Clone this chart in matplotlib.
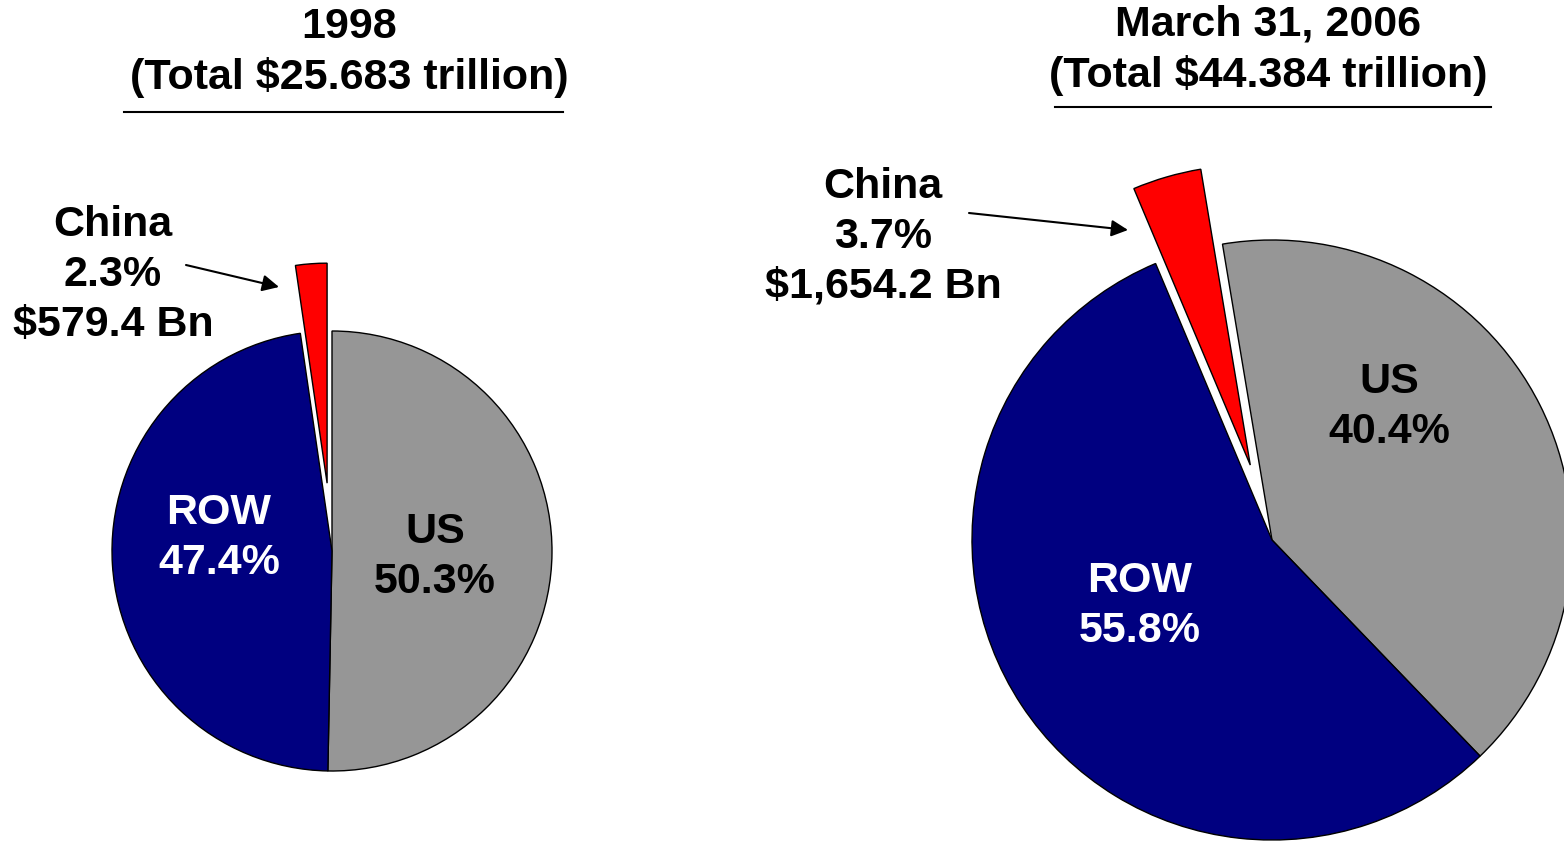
import matplotlib.pyplot as plt

# share of world equity market cap (%)
regions = ['US', 'ROW', 'China']
share_1998 = [50.3, 47.4, 2.3]
share_2006 = [40.4, 55.8, 3.7]
china_bn_1998 = 579.4
china_bn_2006 = 1654.2
total_1998 = 25.683
total_2006 = 44.384

colors = ['#969696', '#000080', '#ff0000']
txt_colors = ['black', 'white']

W, H = 1564, 843


def yy(ypix):
    # picture rows -> data y (axis points up)
    return H - ypix


fig = plt.figure(figsize=(W / 100, H / 100), dpi=100)
ax = fig.add_axes([0, 0, 1, 1])

font = dict(family='Liberation Sans', weight='bold', fontsize=31, linespacing=1.32)

# left pie - 1998
ax.pie(share_1998, colors=colors, startangle=90, counterclock=False,
       center=(332, yy(551)), radius=220, explode=[0, 0, 68],
       wedgeprops=dict(edgecolor='black', linewidth=1))

# right pie - March 2006
ax.pie(share_2006, colors=colors, startangle=99.5, counterclock=False,
       center=(1272, yy(540)), radius=300, explode=[0, 0, 78],
       wedgeprops=dict(edgecolor='black', linewidth=1))

# pie() sets its own limits, so set the pixel frame afterwards
ax.set_xlim(0, W)
ax.set_ylim(0, H)
ax.set_aspect('equal')
ax.axis('off')

# titles with underline
ax.text(349, yy(52.5), '1998\n(Total $%.3f trillion)' % total_1998,
        ha='center', va='center', **font)
ax.plot([124, 563], [yy(112), yy(112)], color='black', lw=1.5)
ax.text(1268, yy(50), 'March 31, 2006\n(Total $%.3f trillion)' % total_2006,
        ha='center', va='center', **font)
ax.plot([1055, 1491], [yy(107), yy(107)], color='black', lw=1.5)

# wedge labels
ax.text(435, yy(557), '%s\n%.1f%%' % (regions[0], share_1998[0]),
        ha='center', va='center', color=txt_colors[0], **font)
ax.text(219, yy(538), '%s\n%.1f%%' % (regions[1], share_1998[1]),
        ha='center', va='center', color=txt_colors[1], **font)
ax.text(1389, yy(407), '%s\n%.1f%%' % (regions[0], share_2006[0]),
        ha='center', va='center', color=txt_colors[0], **font)
ax.text(1140, yy(606), '%s\n%.1f%%' % (regions[1], share_2006[1]),
        ha='center', va='center', color=txt_colors[1], **font)

# China call-outs
ax.text(113, yy(275), '%s\n%.1f%%\n$%.1f Bn' % (regions[2], share_1998[2], china_bn_1998),
        ha='center', va='center', **font)
ax.annotate('', xy=(279, yy(287)), xytext=(186, yy(265)),
            arrowprops=dict(arrowstyle='-|>', color='black', lw=1.5,
                            mutation_scale=25, shrinkA=0, shrinkB=0))
ax.text(883, yy(237), '%s\n%.1f%%\n$%s Bn' % (regions[2], share_2006[2], '{:,.1f}'.format(china_bn_2006)),
        ha='center', va='center', **font)
ax.annotate('', xy=(1128, yy(230)), xytext=(969, yy(213)),
            arrowprops=dict(arrowstyle='-|>', color='black', lw=1.5,
                            mutation_scale=25, shrinkA=0, shrinkB=0))

plt.savefig('out.png', dpi=100)
